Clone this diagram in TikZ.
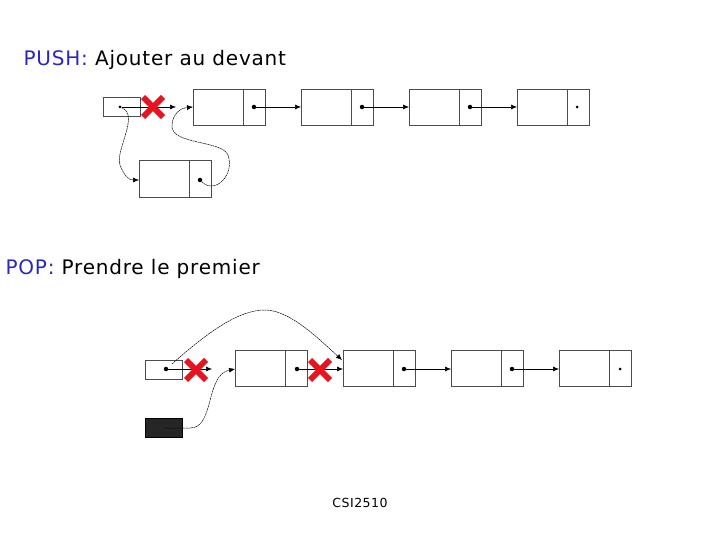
\documentclass[tikz,border=0pt]{standalone}
\usepackage{fontspec}
\setmainfont{DejaVu Sans}[LetterSpace=4]
\usetikzlibrary{arrows.meta}
\definecolor{tblue}{RGB}{40,40,190}
\definecolor{xred}{RGB}{230,20,30}
\tikzset{
 cell/.style={draw=black!70,line width=0.6pt},
 ptr/.style={-{Latex[length=6pt,width=5pt]},line width=0.6pt},
 cptr/.style={-{Latex[length=6pt,width=5pt]},line width=0.5pt,dashed,dash pattern=on 2pt off 0.6pt},
 dot/.style={circle,fill=black,inner sep=0pt,minimum size=4.5pt},
 sdot/.style={circle,fill=black,inner sep=0pt,minimum size=3pt},
 lbl/.style={anchor=west,font=\fontsize{20}{22}\selectfont},
}
\begin{document}
\begin{tikzpicture}[x=1pt,y=-1pt]
\useasboundingbox (0,0) rectangle (720,540);
% texts
\node[lbl] (t1) at (20,60) {\textcolor{tblue}{PUSH:} Ajouter au devant};
\node[lbl] (t2) at (2,269) {\textcolor{tblue}{POP:} Prendre le premier};
\node (t3) at (360,503) {\fontsize{12.5}{14}\selectfont CSI2510};
% PUSH row
\draw[cell] (103,97) rectangle (140,116);
\node[sdot] (h1) at (120,107) {};
\coordinate (h1e) at (176,107);
\foreach \x/\n in {193/a,301/b,409/c,517/d}{
 \draw[cell] (\x,89) rectangle (\x+72,125);
 \draw[cell] (\x+50,89) -- (\x+50,125);
 \coordinate (\n) at (\x,107);
}
\node[dot] (da) at (254,107) {};
\node[dot] (db) at (362,107) {};
\node[dot] (dc) at (470,107) {};
\node[sdot] (dd) at (577,107) {};
\draw[ptr] (da) -- (b);
\draw[ptr] (db) -- (c);
\draw[ptr] (dc) -- (d);
\draw[ptr] (h1) -- (h1e);
\draw[xred,line width=6pt] (143,97) -- (163,117) (143,117) -- (163,97);
% new node
\draw[cell] (139,160) rectangle (211,197);
\draw[cell] (189,160) -- (189,197);
\coordinate (nn) at (139,180);
\node[dot] (dn) at (200,180) {};
\draw[cptr] (h1) .. controls (140,115) and (115,150) .. (120,165) .. controls (124,175) and (128,180) .. (nn);
\draw[cptr] (dn) .. controls (215,195) and (235,175) .. (228,155) .. controls (222,140) and (170,145) .. (172,125) .. controls (173,112) and (182,108) .. (a);
% POP row
\draw[cell] (145,360) rectangle (182,379);
\node[dot] (h2) at (166,369) {};
\coordinate (h2e) at (212,369);
\foreach \x/\n in {235/p,343/q,451/r,559/s}{
 \draw[cell] (\x,350) rectangle (\x+72,386);
 \draw[cell] (\x+50,350) -- (\x+50,386);
 \coordinate (\n) at (\x,369);
}
\node[dot] (dp) at (297,369) {};
\node[dot] (dq) at (404,369) {};
\node[dot] (dr) at (512,369) {};
\node[sdot] (ds) at (620,369) {};
\draw[ptr] (h2) -- (h2e);
\draw[ptr] (dp) -- (q);
\draw[ptr] (dq) -- (r);
\draw[ptr] (dr) -- (s);
\coordinate (arcs) at (172,364);
\coordinate (arce) at (342,360);
\draw[cptr] (arcs) .. controls (210,330) and (240,310) .. (265,310) .. controls (290,310) and (320,340) .. (arce);
\draw[fill=black!85,draw=black] (145,418) rectangle (182,437);
\coordinate (bk) at (165,428);
\draw[cptr] (bk) -- (190,428) .. controls (215,428) and (205,375) .. (p);
\draw[xred,line width=6pt] (186,360) -- (206,380) (186,380) -- (206,360);
\draw[xred,line width=6pt] (310,360) -- (330,380) (310,380) -- (330,360);
\end{tikzpicture}
\end{document}
